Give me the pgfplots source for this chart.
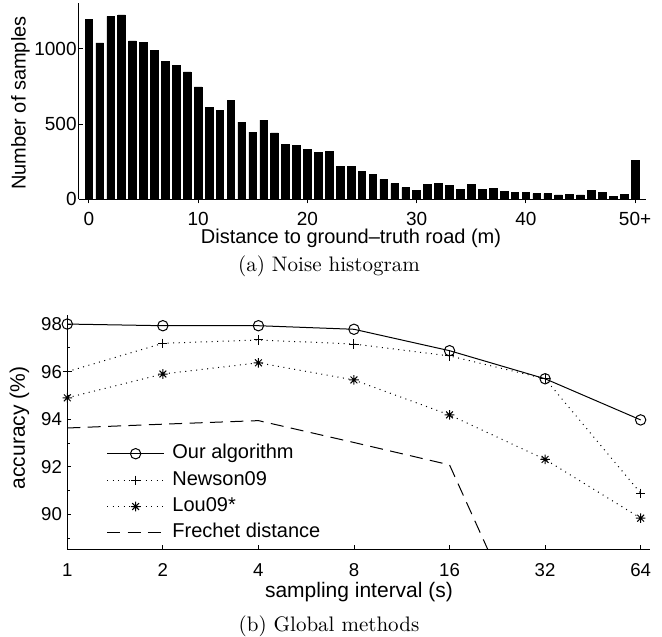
\documentclass[border=0pt]{standalone}
\usepackage{fontspec}
\newfontfamily\hv{Liberation Sans}
\usepackage{pgfplots}
\pgfplotsset{compat=1.18}

% matlab-style asterisk: + and x on top of each other
\pgfdeclareplotmark{mstar}{%
  \pgfpathmoveto{\pgfqpoint{0pt}{\pgfplotmarksize}}%
  \pgfpathlineto{\pgfqpoint{0pt}{-\pgfplotmarksize}}%
  \pgfpathmoveto{\pgfqpoint{\pgfplotmarksize}{0pt}}%
  \pgfpathlineto{\pgfqpoint{-\pgfplotmarksize}{0pt}}%
  \pgfpathmoveto{\pgfqpoint{.707\pgfplotmarksize}{.707\pgfplotmarksize}}%
  \pgfpathlineto{\pgfqpoint{-.707\pgfplotmarksize}{-.707\pgfplotmarksize}}%
  \pgfpathmoveto{\pgfqpoint{-.707\pgfplotmarksize}{.707\pgfplotmarksize}}%
  \pgfpathlineto{\pgfqpoint{.707\pgfplotmarksize}{-.707\pgfplotmarksize}}%
  \pgfusepathqstroke}

\pgfplotsset{
  mstyle/.style={
    axis lines=left, axis line style={-, line width=0.5pt},
    tick align=inside, major tick length=2pt, minor tick length=1.3pt,
    tick style={black, line width=0.4pt},
    /pgf/number format/assume math mode=true,
    /pgf/number format/1000 sep={},
    scale only axis,
  },
}

\begin{document}
\begin{tikzpicture}
\path[use as bounding box] (0pt,0pt) rectangle (331pt,-318pt);

% (a) noise histogram
\begin{axis}[
  mstyle,
  at={(39.5pt,-99.65pt)}, anchor=south west,
  width=283.5pt, height=98pt,
  xmin=-0.9, xmax=51, ymin=0, ymax=1300,
  xtick={0,10,20,30,40,50}, xticklabels={0,10,20,30,40,50+},
  ytick={0,500,1000},
  ticklabel style={font=\hv\fontsize{9.5}{11}\selectfont},
  xticklabel style={inner sep=0pt, anchor=north, yshift=-4.5pt},
  yticklabel style={inner sep=0pt, anchor=east, xshift=-1pt},
  ybar, bar width=0.7,
]
\addplot[fill=black, draw=black, line width=0.3pt] coordinates {
  (0,1194) (1,1037) (2,1214) (3,1223) (4,1051) (5,1040) (6,989) (7,914)
  (8,890) (9,845) (10,746) (11,609) (12,592) (13,656) (14,512) (15,446)
  (16,525) (17,441) (18,364) (19,355) (20,329) (21,309) (22,316) (23,216)
  (24,216) (25,183) (26,166) (27,132) (28,104) (29,77) (30,57) (31,97)
  (32,108) (33,90) (34,64) (35,97) (36,64) (37,71) (38,53) (39,44)
  (40,44) (41,37) (42,37) (43,29) (44,31) (45,29) (46,57) (47,44)
  (48,20) (49,31) (50,258)
};
\end{axis}

\node[font=\hv\fontsize{10}{12}\selectfont, anchor=base] at (175.5pt,-121.6pt)
  {Distance to ground\textendash truth road (m)};
\node[font=\hv\fontsize{10}{12}\selectfont, rotate=90, anchor=base] at (12.85pt,-51.5pt)
  {Number of samples};
\node[font=\fontsize{10.5}{12}\selectfont, anchor=base] at (164.5pt,-135.85pt)
  {(a) Noise histogram};

% (b) global methods
\begin{axis}[
  mstyle,
  at={(33.65pt,-274.65pt)}, anchor=south west,
  width=291.35pt, height=117.15pt,
  xmode=log, log basis x=2, xmin=1, xmax=68.5,
  ymin=88.53, ymax=98.38,
  xtick={1,2,4,8,16,32,64}, xticklabels={1,2,4,8,16,32,64},
  ytick={90,92,94,96,98}, minor ytick={89,91,93,95,97},
  ticklabel style={font=\hv\fontsize{9.3}{11}\selectfont},
  xticklabel style={inner sep=0pt, anchor=north, yshift=-7pt},
  yticklabel style={inner sep=0pt, anchor=east, xshift=-2.5pt},
  legend cell align=left,
  legend style={at={(0.0668,0.466)}, anchor=north west, draw=none, fill=none,
    font=\hv\fontsize{10}{12}\selectfont, inner sep=0pt, row sep=0pt, column sep=2pt,
    nodes={inner xsep=1.9pt, inner ysep=1.6pt, text height=7.5pt, text depth=2.5pt}},
  legend image code/.code={\draw[mark repeat=2, mark phase=2]
    plot coordinates {(0pt,0pt) (14.25pt,0pt) (28.5pt,0pt)};},
]
\addplot[black, line width=0.5pt, mark=o, mark size=2.6pt, mark options={solid}]
  coordinates {(1,98.00) (2,97.93) (4,97.93) (8,97.78) (16,96.88) (32,95.70) (64,93.97)};
\addlegendentry{Our algorithm}
\addplot[black, line width=0.5pt, dash pattern=on 0.5pt off 2.25pt, mark=+, mark size=2.3pt, mark options={solid}]
  coordinates {(1,96.00) (2,97.19) (4,97.33) (8,97.16) (16,96.66) (32,95.70) (64,90.89)};
\addlegendentry{Newson09}
\addplot[black, line width=0.5pt, dash pattern=on 0.5pt off 2.25pt, mark=mstar, mark size=2.4pt, mark options={solid}]
  coordinates {(1,94.90) (2,95.90) (4,96.37) (8,95.65) (16,94.18) (32,92.31) (64,89.84)};
\addlegendentry{Lou09*}
\addplot[black, line width=0.5pt, dash pattern=on 6.5pt off 3.7pt, no marks]
  coordinates {(1,93.63) (2,93.79) (4,93.94) (8,93.02) (16,92.08) (32,83.2)};
\addlegendentry{Frechet distance}
\end{axis}

\node[font=\hv\fontsize{10.5}{12}\selectfont, anchor=base] at (179.5pt,-298.65pt)
  {sampling interval (s)};
\node[font=\hv\fontsize{10.5}{12}\selectfont, rotate=90, anchor=base] at (12.5pt,-214pt)
  {accuracy (\%)};
\node[font=\fontsize{10.5}{12}\selectfont, anchor=base] at (164.5pt,-315.85pt)
  {(b) Global methods};
\end{tikzpicture}
\end{document}
